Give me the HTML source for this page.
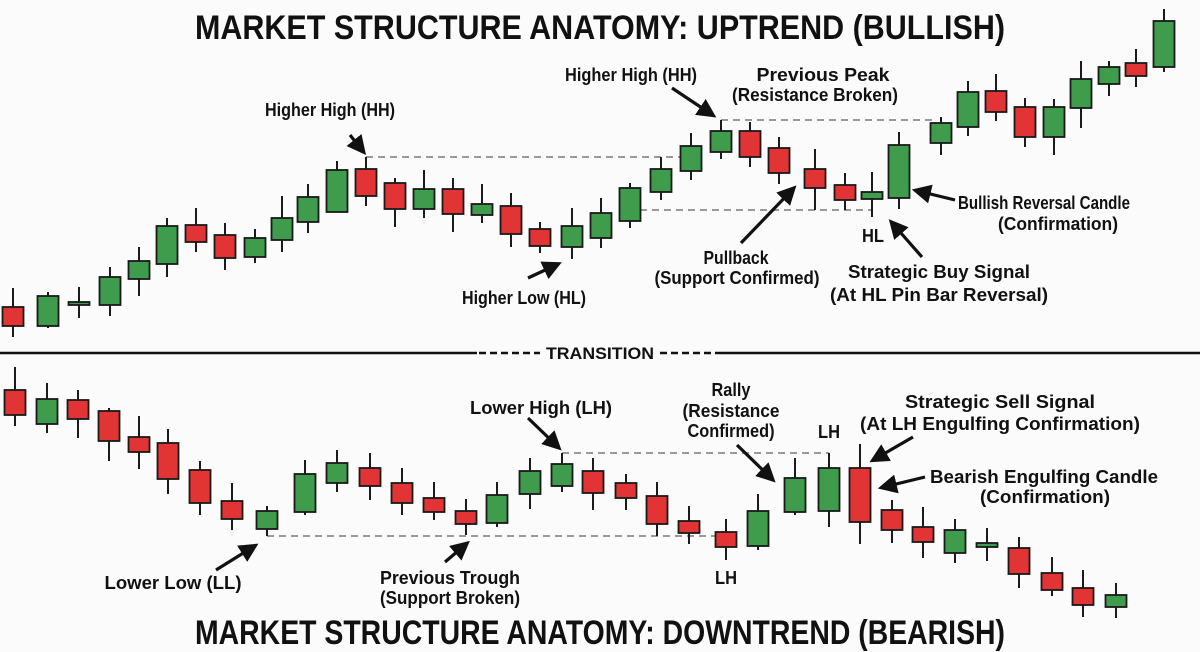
<!DOCTYPE html>
<html><head><meta charset="utf-8"><style>
html,body{margin:0;padding:0;background:#fbfbfb;}
svg{display:block;}
text{font-family:"Liberation Sans",sans-serif;font-weight:bold;fill:#111;}
</style></head><body>
<svg id="s" width="1200" height="652" viewBox="0 0 1200 652" xmlns="http://www.w3.org/2000/svg">
<defs><marker id="ah" markerWidth="6" markerHeight="6" refX="4" refY="3" orient="auto" markerUnits="strokeWidth"><path d="M0,0 L6,3 L0,6 Z" fill="#111"/></marker></defs>
<rect width="1200" height="652" fill="#fbfbfb"/>
<text x="600" y="39" font-size="34" text-anchor="middle" textLength="810" lengthAdjust="spacingAndGlyphs">MARKET STRUCTURE ANATOMY: UPTREND (BULLISH)</text>
<text x="600" y="644" font-size="34" text-anchor="middle" textLength="810" lengthAdjust="spacingAndGlyphs">MARKET STRUCTURE ANATOMY: DOWNTREND (BEARISH)</text>
<g stroke="#999" stroke-width="2" stroke-dasharray="7,5" fill="none">
<line x1="366" y1="157" x2="680" y2="157"/>
<line x1="721" y1="120" x2="937" y2="120"/>
<line x1="640" y1="210" x2="872" y2="210"/>
<line x1="267" y1="536" x2="715" y2="536"/>
<line x1="562" y1="453" x2="829" y2="453"/>
</g>
<g stroke="#111" stroke-width="2.5">
<line x1="0" y1="353" x2="477" y2="353"/>
<line x1="722" y1="353" x2="1200" y2="353"/>
<line x1="479" y1="353" x2="540" y2="353" stroke-dasharray="7,4"/>
<line x1="660" y1="353" x2="722" y2="353" stroke-dasharray="7,4"/>
</g>
<text x="600" y="359" font-size="17" text-anchor="middle" textLength="108" lengthAdjust="spacingAndGlyphs">TRANSITION</text>
<g id="c"></g>
<g stroke="#111" stroke-width="3.2" marker-end="url(#ah)">
<line x1="350" y1="135" x2="362" y2="150"/>
<line x1="528" y1="278" x2="556" y2="265"/>
<line x1="672" y1="88" x2="711" y2="114"/>
<line x1="741" y1="243" x2="792" y2="190"/>
<line x1="922" y1="257" x2="893" y2="224"/>
<line x1="955" y1="200" x2="918" y2="191"/>
<line x1="216" y1="570" x2="253" y2="547"/>
<line x1="445" y1="562" x2="465" y2="545"/>
<line x1="528" y1="418" x2="557" y2="446"/>
<line x1="737" y1="445" x2="771" y2="478"/>
<line x1="913" y1="437" x2="875" y2="459"/>
<line x1="925" y1="477" x2="884" y2="487"/>
</g>
<g font-size="18" text-anchor="middle" lengthAdjust="spacingAndGlyphs">
<text x="330" y="116" textLength="130" lengthAdjust="spacingAndGlyphs">Higher High (HH)</text>
<text x="524" y="304" textLength="124" lengthAdjust="spacingAndGlyphs">Higher Low (HL)</text>
<text x="631" y="81" textLength="132" lengthAdjust="spacingAndGlyphs">Higher High (HH)</text>
<text x="823" y="81" textLength="133" lengthAdjust="spacingAndGlyphs">Previous Peak</text>
<text x="815" y="101" textLength="166" lengthAdjust="spacingAndGlyphs">(Resistance Broken)</text>
<text x="736" y="264" textLength="65" lengthAdjust="spacingAndGlyphs">Pullback</text>
<text x="737" y="284" textLength="165" lengthAdjust="spacingAndGlyphs">(Support Confirmed)</text>
<text x="873" y="242" textLength="22" lengthAdjust="spacingAndGlyphs">HL</text>
<text x="939" y="278" textLength="182" lengthAdjust="spacingAndGlyphs">Strategic Buy Signal</text>
<text x="939" y="301" textLength="218" lengthAdjust="spacingAndGlyphs">(At HL Pin Bar Reversal)</text>
<text x="1044" y="209" textLength="172" lengthAdjust="spacingAndGlyphs">Bullish Reversal Candle</text>
<text x="1058" y="230" textLength="120" lengthAdjust="spacingAndGlyphs">(Confirmation)</text>
<text x="173" y="589" textLength="137" lengthAdjust="spacingAndGlyphs">Lower Low (LL)</text>
<text x="450" y="584" textLength="140" lengthAdjust="spacingAndGlyphs">Previous Trough</text>
<text x="450" y="604" textLength="140" lengthAdjust="spacingAndGlyphs">(Support Broken)</text>
<text x="541" y="414" textLength="142" lengthAdjust="spacingAndGlyphs">Lower High (LH)</text>
<text x="731" y="396" textLength="39" lengthAdjust="spacingAndGlyphs">Rally</text>
<text x="731" y="417" textLength="97" lengthAdjust="spacingAndGlyphs">(Resistance</text>
<text x="731" y="437" textLength="87" lengthAdjust="spacingAndGlyphs">Confirmed)</text>
<text x="829" y="438" textLength="22" lengthAdjust="spacingAndGlyphs">LH</text>
<text x="726" y="584" textLength="22" lengthAdjust="spacingAndGlyphs">LH</text>
<text x="1000" y="408" textLength="190" lengthAdjust="spacingAndGlyphs">Strategic Sell Signal</text>
<text x="1000" y="430" textLength="280" lengthAdjust="spacingAndGlyphs">(At LH Engulfing Confirmation)</text>
<text x="1044" y="483" textLength="228" lengthAdjust="spacingAndGlyphs">Bearish Engulfing Candle</text>
<text x="1045" y="503" textLength="130" lengthAdjust="spacingAndGlyphs">(Confirmation)</text>
</g>
</svg>
<script>
var G="#3e9c4c",R="#e23434";
var d=[
[13,288,307,326,337,R],[48,292,296,326,328,G],[79,287,302,305,318,G],[110,267,277,305,316,G],[139,247,261,279,296,G],[167,218,226,264,277,G],[196,208,225,242,252,R],[225,223,235,258,270,R],[255,229,238,257,263,G],[282,196,218,240,252,G],[308,184,197,222,233,G],[337,161,170,212,212,G],[366,157,169,196,206,R],[395,178,183,209,227,R],[424,170,189,209,218,G],[453,178,189,214,232,R],[482,184,204,215,223,G],[511,193,206,234,247,R],[540,222,229,246,253,R],[572,208,226,247,259,G],[601,198,213,238,248,G],
[630,183,188,221,228,G],[661,157,169,192,200,G],[691,133,146,171,180,G],[721,120,131,152,159,G],[750,122,131,157,167,R],[779,137,148,173,184,R],[815,149,169,188,210,R],[845,173,185,200,210,R],[872,172,192,199,217,G],[899,132,145,198,209,G],[941,117,123,143,155,G],[968,81,92,127,136,G],[996,74,91,112,121,R],[1025,98,107,137,147,R],[1054,99,107,137,155,G],[1081,61,79,108,128,G],[1109,61,67,84,96,G],[1136,49,63,76,87,R],[1164,9,21,67,72,G],
[15,367,390,415,426,R],[47,383,399,424,433,G],[78,390,400,419,438,R],[109,408,411,441,461,R],[139,416,437,452,469,R],[168,429,443,479,494,R],[200,461,470,503,515,R],[232,483,501,519,530,R],[267,506,511,529,536,G],[305,460,474,512,515,G],[337,450,463,483,492,G],[370,453,468,486,500,R],[402,468,483,503,515,R],[434,482,498,512,520,R],[466,499,511,524,535,R],[497,482,495,523,527,G],[530,458,471,494,509,G],[562,453,464,486,492,G],[593,458,471,493,510,R],[626,474,483,498,510,R],[657,482,496,524,536,R],[689,506,521,533,544,R],[726,519,532,547,560,R],[758,494,511,546,550,G],[795,458,478,512,515,G],[829,453,468,511,527,G],[860,444,468,522,544,R],[892,500,510,530,543,R],[923,507,527,542,558,R],[955,519,530,553,563,G],[987,528,543,547,561,G],[1019,537,548,574,588,R],[1052,557,573,590,596,R],[1083,570,588,605,617,R],[1116,583,595,607,618,G]];
var h="";d.forEach(function(c){h+='<line x1="'+c[0]+'" y1="'+c[1]+'" x2="'+c[0]+'" y2="'+c[4]+'" stroke="#1a1a1a" stroke-width="2"/>';h+='<rect x="'+(c[0]-10.5)+'" y="'+c[2]+'" width="21" height="'+Math.max(3,c[3]-c[2])+'" fill="'+c[5]+'" stroke="#1a1a1a" stroke-width="1.8"/>';});
document.getElementById("c").innerHTML=h;
</script>
</body></html>
